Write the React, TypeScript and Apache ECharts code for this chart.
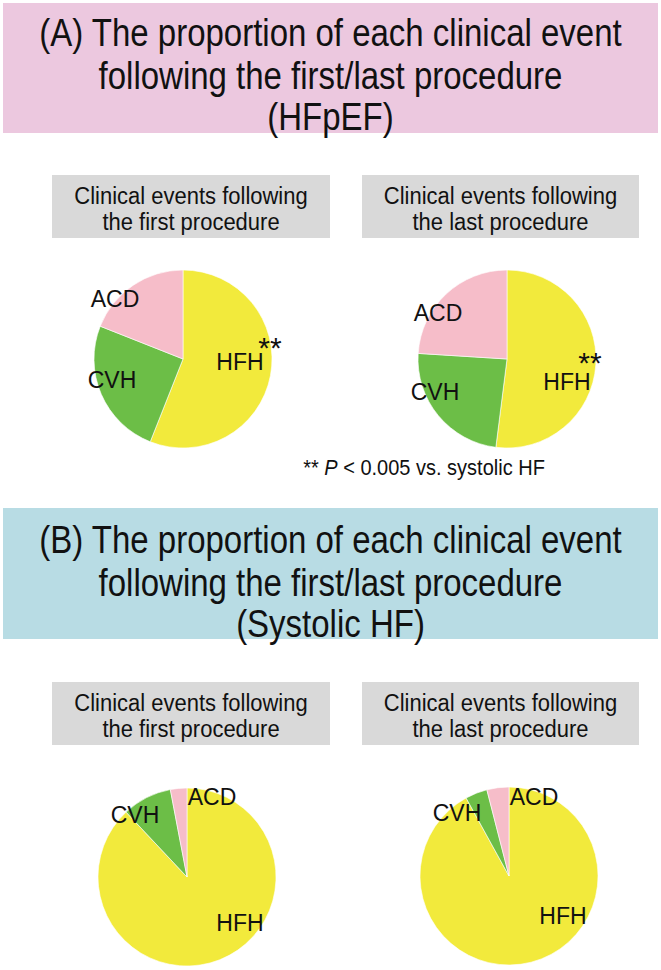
import React, { useEffect, useRef } from "react";
import * as echarts from "echarts";

const categories = ["HFH", "CVH", "ACD"];
const colors = ["#F2EA3C", "#6CBE47", "#F6BDC9"];

// percentages
const hfpefFirst = [56, 25, 19];
const hfpefLast = [52, 24, 24];
const systolicFirst = [88, 9, 3];
const systolicLast = [92, 4, 4];

const titleA = ["(A) The proportion of each clinical event", "following the first/last procedure", "(HFpEF)"];
const titleB = ["(B) The proportion of each clinical event", "following the first/last procedure", "(Systolic HF)"];
const subFirst = ["Clinical events following", "the first procedure"];
const subLast = ["Clinical events following", "the last procedure"];
const note = "** {i|P} < 0.005 vs. systolic HF";

const FONT = '"Liberation Sans", Arial, sans-serif';

export default function App() {
  const ref = useRef<HTMLDivElement>(null);
  useEffect(() => {
    document.body.style.margin = "0";
    const chart = echarts.init(ref.current!, undefined, { renderer: "svg" });

    const pies = [
      { data: hfpefFirst, center: [183, 359], off: [[57, 3], [-71, 21], [-68, -60]] },
      { data: hfpefLast, center: [507, 359], off: [[60, 23], [-72, 33], [-69, -46]] },
      { data: systolicFirst, center: [187, 877], off: [[53, 46], [-52, -62], [25, -80]] },
      { data: systolicLast, center: [509, 876], off: [[54, 40], [-52, -63], [25, -79]] },
    ];

    const series = pies.map((p) => ({
      type: "pie",
      center: p.center,
      radius: 89,
      startAngle: 90,
      clockwise: true,
      silent: true,
      z: 2,
      data: categories.map((c, i) => ({ name: c, value: p.data[i], itemStyle: { color: colors[i] } })),
      itemStyle: { borderColor: "#ffffff", borderWidth: 0.6 },
      label: {
        show: true,
        position: "inside",
        formatter: "{b}",
        color: "#111",
        fontSize: 23,
        fontFamily: FONT,
      },
      labelLine: { show: false },
      labelLayout: (params: any) => {
        const o = p.off[params.dataIndex];
        return { x: p.center[0] + o[0], y: p.center[1] + o[1], align: "center", verticalAlign: "middle" };
      },
    }));

    const txt = (text: string, x: number, y: number, size: number, sy: number, extra: any = {}) => ({
      type: "text",
      x,
      y,
      scaleY: sy,
      z: 100,
      style: {
        text,
        fill: "#111",
        font: `${extra.weight || ""} ${size}px ${FONT}`,
        fontSize: size,
        fontFamily: FONT,
        textAlign: "center",
        textVerticalAlign: "middle",
        align: "center",
        verticalAlign: "middle",
        ...(extra.lineHeight ? { lineHeight: extra.lineHeight } : {}),
        ...(extra.rich ? { rich: extra.rich } : {}),
      },
    });

    const titleText = (lines: string[], ys: number[]) => lines.map((t, i) => txt(t, 330.5, ys[i], 33, 1.16));

    const subBox = (x0: number, x1: number, y0: number, y1: number, lines: string[]) => [
      { type: "rect", z: 1, shape: { x: x0, y: y0, width: x1 - x0, height: y1 - y0 }, style: { fill: "#D9D9D9" } },
      ...lines.map((t, i) => txt(t, (x0 + x1) / 2, y0 + 21 + i * 26, 22, 1.12)),
    ];

    const stars = [
      [pies[0].center[0] + 87, pies[0].center[1] - 12],
      [pies[1].center[0] + 83, pies[1].center[1] + 3],
    ].map(([x, y]) => txt("**", x, y, 30, 1.0, { weight: "bold", lineHeight: 12 }));

    chart.setOption({
      animation: false,
      backgroundColor: "#ffffff",
      graphic: [
        { type: "rect", z: 1, shape: { x: 3, y: 3, width: 655, height: 130 }, style: { fill: "#ECC8DF" } },
        ...titleText(titleA, [33, 76, 117]),
        ...subBox(52, 330, 175, 238, subFirst),
        ...subBox(362, 639, 175, 238, subLast),
        txt(note, 424, 467, 20, 1.1, {
          rich: { i: { fontStyle: "italic", fontSize: 20, fontFamily: FONT, fill: "#111" } },
        }),
        ...stars,
        { type: "rect", z: 1, shape: { x: 3, y: 508, width: 655, height: 131 }, style: { fill: "#B8DCE4" } },
        ...titleText(titleB, [540, 583, 624]),
        ...subBox(52, 330, 682, 745, subFirst),
        ...subBox(362, 639, 682, 745, subLast),
      ],
      series,
    });
    return () => chart.dispose();
  }, []);
  return <div ref={ref} style={{ position: "absolute", left: 0, top: 0, width: 661, height: 970 }} />;
}
